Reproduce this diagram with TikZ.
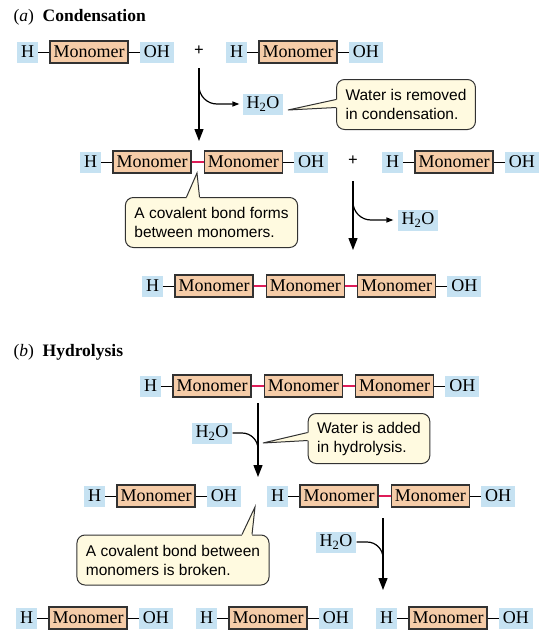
\documentclass[tikz,border=0pt]{standalone}
\usepackage{fontspec}
\setmainfont{Liberation Serif}
\newfontfamily\notefont{Liberation Sans}
\usetikzlibrary{positioning,arrows.meta}

\definecolor{monofill}{RGB}{245,204,168}
\definecolor{termblue}{RGB}{198,226,242}
\definecolor{notefill}{RGB}{255,250,224}
\definecolor{boxline}{RGB}{50,50,50}
\definecolor{bondred}{RGB}{222,28,88}

\begin{document}
\begin{tikzpicture}[x=1pt, y=-1pt,
    monomer/.style={rectangle, draw=boxline, line width=1.3pt, fill=monofill, minimum width=78pt, minimum height=22pt, inner sep=0pt, font=\rmfamily\fontsize{18}{20}\selectfont},
    term/.style={rectangle, fill=termblue, minimum height=21pt, inner xsep=4pt, inner ysep=0pt, font=\rmfamily\fontsize{18}{20}\selectfont},
    note/.style={rectangle, rounded corners=8pt, draw=boxline, line width=1pt, fill=notefill, align=left, inner xsep=9pt, minimum height=50pt, font=\notefont\fontsize{15.5}{19}\selectfont},
    noteline/.style={draw=boxline, line width=1pt},
    title/.style={anchor=west, font=\rmfamily\fontsize{17.5}{20}\selectfont},
    plus/.style={font=\rmfamily\fontsize{17}{18}\selectfont\bfseries},
    bond/.style={line width=1pt},
    link/.style={line width=2pt, bondred},
    arrow/.style={line width=1.3pt, -{Triangle[length=12pt,width=9pt]}},
    branch/.style={line width=1.2pt},
    node distance=11pt
]
    \useasboundingbox (0,0) rectangle (550,632);

    % (a) condensation
    \node[title] (ta) at (10,17) {(\textit{a})\enspace\textbf{Condensation}};

    \node[monomer] (m11) at (89,52) {Monomer};
    \node[term, left=of m11] (h11) {H};
    \node[term, right=of m11] (o11) {OH};
    \node[plus] (p1) at (199,51) {+};
    \node[monomer] (m12) at (298,52) {Monomer};
    \node[term, left=of m12] (h12) {H};
    \node[term, right=of m12] (o12) {OH};

    \node[monomer] (m21) at (152,162) {Monomer};
    \node[monomer, right=12pt of m21] (m22) {Monomer};
    \node[term, left=of m21] (h21) {H};
    \node[term, right=of m22] (o21) {OH};
    \node[plus] (p2) at (353,161) {+};
    \node[monomer] (m23) at (454,162) {Monomer};
    \node[term, left=of m23] (h22) {H};
    \node[term, right=of m23] (o22) {OH};

    \node[monomer] (m31) at (214,286) {Monomer};
    \node[monomer, right=12pt of m31] (m32) {Monomer};
    \node[monomer, right=12pt of m32] (m33) {Monomer};
    \node[term, left=of m31] (h3) {H};
    \node[term, right=of m33] (o3) {OH};

    \draw[bond] (h11) -- (m11);
    \draw[bond] (m11) -- (o11);
    \draw[bond] (h12) -- (m12);
    \draw[bond] (m12) -- (o12);
    \draw[bond] (h21) -- (m21);
    \draw[link] (m21) -- (m22);
    \draw[bond] (m22) -- (o21);
    \draw[bond] (h22) -- (m23);
    \draw[bond] (m23) -- (o22);
    \draw[bond] (h3) -- (m31);
    \draw[link] (m31) -- (m32);
    \draw[link] (m32) -- (m33);
    \draw[bond] (m33) -- (o3);

    % water leaves
    \node[term] (w1) at (263,104) {H\textsubscript{2}O};
    \coordinate (a1) at (199,68);
    \coordinate (b1) at (199,141);
    \coordinate (s1) at (199,76);
    \draw[arrow] (a1) -- (b1);
    \draw[branch, rounded corners=18pt, -{Triangle[length=7pt,width=5pt]}, shorten >=3pt] (s1) |- (w1);

    \node[term] (w2) at (418,220) {H\textsubscript{2}O};
    \coordinate (a2) at (353,181);
    \coordinate (b2) at (353,250);
    \coordinate (s2) at (353,188);
    \draw[arrow] (a2) -- (b2);
    \draw[branch, rounded corners=18pt, -{Triangle[length=7pt,width=5pt]}, shorten >=4pt] (s2) |- (w2);

    \node[note] (n1) at (406,104.5) {Water is removed\\in condensation.};
    \coordinate (t1) at (288,110);
    \fill[notefill] (t1) -- ([yshift=5pt]n1.west) -- ([xshift=2pt,yshift=5pt]n1.west) -- ([xshift=2pt,yshift=-3pt]n1.west) -- ([yshift=-3pt]n1.west) -- cycle;
    \draw[noteline] ([yshift=5pt]n1.west) -- (t1) -- ([yshift=-3pt]n1.west);

    \node[note] (n2) at (211.5,222.5) {A covalent bond forms\\between monomers.};
    \coordinate (t2) at (197,173);
    \fill[notefill] (t2) -- ([xshift=-25pt]n2.north) -- ([xshift=-25pt,yshift=-2pt]n2.north) -- ([xshift=-12pt,yshift=-2pt]n2.north) -- ([xshift=-12pt]n2.north) -- cycle;
    \draw[noteline] ([xshift=-25pt]n2.north) -- (t2) -- ([xshift=-12pt]n2.north);

    % (b) hydrolysis
    \node[title] (tb) at (10,352) {(\textit{b})\enspace\textbf{Hydrolysis}};

    \node[monomer] (m41) at (212,386) {Monomer};
    \node[monomer, right=12pt of m41] (m42) {Monomer};
    \node[monomer, right=12pt of m42] (m43) {Monomer};
    \node[term, left=of m41] (h4) {H};
    \node[term, right=of m43] (o4) {OH};

    \node[monomer] (m51) at (156,496) {Monomer};
    \node[term, left=of m51] (h51) {H};
    \node[term, right=of m51] (o51) {OH};
    \node[monomer] (m52) at (339,496) {Monomer};
    \node[monomer, right=12pt of m52] (m53) {Monomer};
    \node[term, left=of m52] (h52) {H};
    \node[term, right=of m53] (o52) {OH};

    \node[monomer] (m61) at (88,618) {Monomer};
    \node[term, left=of m61] (h61) {H};
    \node[term, right=of m61] (o61) {OH};
    \node[monomer] (m62) at (268,618) {Monomer};
    \node[term, left=of m62] (h62) {H};
    \node[term, right=of m62] (o62) {OH};
    \node[monomer] (m63) at (448,618) {Monomer};
    \node[term, left=of m63] (h63) {H};
    \node[term, right=of m63] (o63) {OH};

    \draw[bond] (h4) -- (m41);
    \draw[link] (m41) -- (m42);
    \draw[link] (m42) -- (m43);
    \draw[bond] (m43) -- (o4);
    \draw[bond] (h51) -- (m51);
    \draw[bond] (m51) -- (o51);
    \draw[bond] (h52) -- (m52);
    \draw[link] (m52) -- (m53);
    \draw[bond] (m53) -- (o52);
    \draw[bond] (h61) -- (m61);
    \draw[bond] (m61) -- (o61);
    \draw[bond] (h62) -- (m62);
    \draw[bond] (m62) -- (o62);
    \draw[bond] (h63) -- (m63);
    \draw[bond] (m63) -- (o63);

    % water comes in
    \node[term] (w3) at (212,433) {H\textsubscript{2}O};
    \coordinate (a3) at (258,403);
    \coordinate (b3) at (258,477);
    \coordinate (j3) at (258,456);
    \draw[arrow] (a3) -- (b3);
    \draw[branch, rounded corners=16pt] (w3) -| (j3);

    \node[term] (w4) at (336,542) {H\textsubscript{2}O};
    \coordinate (a4) at (383,518);
    \coordinate (b4) at (383,590);
    \coordinate (j4) at (383,568);
    \draw[arrow] (a4) -- (b4);
    \draw[branch, rounded corners=16pt] (w4) -| (j4);

    \node[note] (n3) at (369,438.5) {Water is added\\in hydrolysis.};
    \coordinate (t3) at (263,443);
    \fill[notefill] (t3) -- ([yshift=6pt]n3.west) -- ([xshift=2pt,yshift=6pt]n3.west) -- ([xshift=2pt,yshift=-2pt]n3.west) -- ([yshift=-2pt]n3.west) -- cycle;
    \draw[noteline] ([yshift=6pt]n3.west) -- (t3) -- ([yshift=-2pt]n3.west);

    \node[note] (n4) at (173,560) {A covalent bond between\\monomers is broken.};
    \coordinate (t4) at (255,507);
    \fill[notefill] (t4) -- ([xshift=69pt]n4.north) -- ([xshift=69pt,yshift=-2pt]n4.north) -- ([xshift=79pt,yshift=-2pt]n4.north) -- ([xshift=79pt]n4.north) -- cycle;
    \draw[noteline] ([xshift=69pt]n4.north) -- (t4) -- ([xshift=79pt]n4.north);
\end{tikzpicture}
\end{document}
